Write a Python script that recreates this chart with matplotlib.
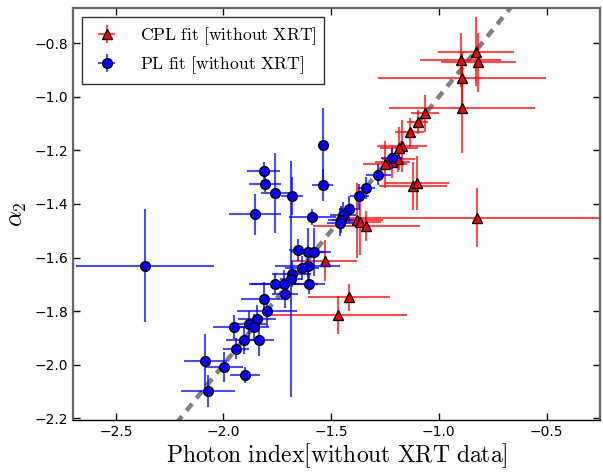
import matplotlib
matplotlib.use("Agg")
import matplotlib.pyplot as plt
import numpy as np

plt.rcParams['mathtext.fontset'] = 'cm'

# PL fit [without XRT]
pl_x = [-1.54, -1.54, -1.814, -1.808, -1.760, -1.683, -1.853, -1.588, -1.369, -1.336,
        -1.415, -1.445, -1.455, -1.458, -1.219, -1.281, -1.656, -1.607, -1.581, -1.609,
        -1.635, -1.683, -1.686, -1.760, -1.720, -1.603, -1.714, -1.810, -1.797, -1.844,
        -1.882, -1.859, -1.950, -1.906, -1.837, -1.940, -2.084, -1.998, -1.901, -2.070,
        -2.365]
pl_y = [-1.18, -1.33, -1.275, -1.325, -1.358, -1.371, -1.439, -1.449, -1.37, -1.34,
        -1.419, -1.443, -1.458, -1.47, -1.23, -1.29, -1.572, -1.58, -1.58, -1.63,
        -1.639, -1.66, -1.68, -1.698, -1.698, -1.698, -1.738, -1.753, -1.799, -1.829,
        -1.849, -1.859, -1.86, -1.909, -1.908, -1.94, -1.987, -2.009, -2.038, -2.098,
        -1.63]
pl_xerr = [0.02, 0.05, 0.075, 0.075, 0.065, 0.05, 0.12, 0.11, 0.045, 0.04,
           0.05, 0.06, 0.06, 0.06, 0.05, 0.058, 0.04, 0.08, 0.08, 0.15,
           0.08, 0.09, 0.05, 0.11, 0.16, 0.075, 0.06, 0.11, 0.14, 0.09,
           0.08, 0.07, 0.10, 0.08, 0.07, 0.06, 0.10, 0.09, 0.07, 0.125,
           0.32]
pl_yerr = [0.14, 0.06, 0.03, 0.03, 0.15, 0.07, 0.075, 0.03, 0.045, 0.04,
           0.05, 0.05, 0.05, 0.05, 0.04, 0.04, 0.04, 0.09, 0.09, 0.075,
           0.045, 0.05, 0.44, 0.04, 0.05, 0.04, 0.05, 0.06, 0.06, 0.05,
           0.05, 0.05, 0.045, 0.05, 0.06, 0.04, 0.10, 0.056, 0.03, 0.06,
           0.21]

# CPL fit [without XRT]
cpl_x = [-0.827, -0.899, -0.816, -0.892, -0.892, -1.064, -1.098, -1.135, -1.170, -1.185,
         -1.188, -1.216, -1.250, -1.120, -1.100, -0.825, -1.378, -1.367, -1.336, -1.529,
         -1.418, -1.468]
cpl_y = [-0.831, -0.862, -0.871, -0.931, -1.041, -1.062, -1.093, -1.133, -1.183, -1.192,
         -1.232, -1.242, -1.252, -1.332, -1.321, -1.452, -1.46, -1.469, -1.482, -1.612,
         -1.749, -1.815]
cpl_xerr = [0.175, 0.19, 0.175, 0.39, 0.34, 0.067, 0.05, 0.067, 0.115, 0.09,
            0.077, 0.08, 0.10, 0.16, 0.148, 0.60, 0.12, 0.10, 0.25, 0.148,
            0.19, 0.32]
cpl_yerr = [0.13, 0.10, 0.11, 0.10, 0.17, 0.07, 0.045, 0.053, 0.097, 0.08,
            0.05, 0.06, 0.087, 0.09, 0.10, 0.11, 0.14, 0.12, 0.055, 0.077,
            0.05, 0.07]

fig = plt.figure(figsize=(6.03, 4.72), dpi=100)
ax = fig.add_axes([0.1206, 0.110, 0.875, 0.872])

line = np.array([-3.0, 0.0])
ax.plot(line, line, ls='--', color='#808080', lw=3.2, dashes=(2.0, 1.6), zorder=1)

ax.errorbar(cpl_x, cpl_y, xerr=cpl_xerr, yerr=cpl_yerr, fmt='^', color='red',
            ecolor=(1, 0, 0, 0.7), elinewidth=1.5, capsize=0, ms=7, mec='black',
            mew=1.0, label=r'$\mathrm{CPL\ fit\ [without\ XRT]}$', zorder=3)
ax.errorbar(pl_x, pl_y, xerr=pl_xerr, yerr=pl_yerr, fmt='o', color='blue',
            ecolor=(0, 0, 1, 0.7), elinewidth=1.5, capsize=0, ms=7, mec='black',
            mew=1.0, label=r'$\mathrm{PL\ fit\ [without\ XRT]}$', zorder=4)

ax.set_xlim(-2.7, -0.25)
ax.set_ylim(-2.207, -0.67)
ax.set_xticks([-2.5, -2.0, -1.5, -1.0, -0.5])
ax.set_yticks([-2.2, -2.0, -1.8, -1.6, -1.4, -1.2, -1.0, -0.8])

ax.tick_params(direction='in', top=True, right=True, length=5, width=1,
               labelsize=10)
for side in ['top', 'left', 'right']:
    ax.spines[side].set_color('#666666')
    ax.spines[side].set_linewidth(1.6)
ax.spines['bottom'].set_color('black')
ax.spines['bottom'].set_linewidth(1.0)

ax.set_xlabel(r'$\mathrm{Photon\ index[without\ XRT\ data]}$', fontsize=17, labelpad=2)
ax.set_ylabel(r'$\alpha_2$', fontsize=18, labelpad=4)

leg = ax.legend(loc='upper left', fontsize=12.7, fancybox=False, framealpha=1,
                edgecolor='#333333', borderpad=0.45, handlelength=1.93,
                handletextpad=0.9, labelspacing=0.4, numpoints=1,
                borderaxespad=0.51)
leg.get_frame().set_linewidth(1.0)

fig.savefig('out.png', dpi=100)
